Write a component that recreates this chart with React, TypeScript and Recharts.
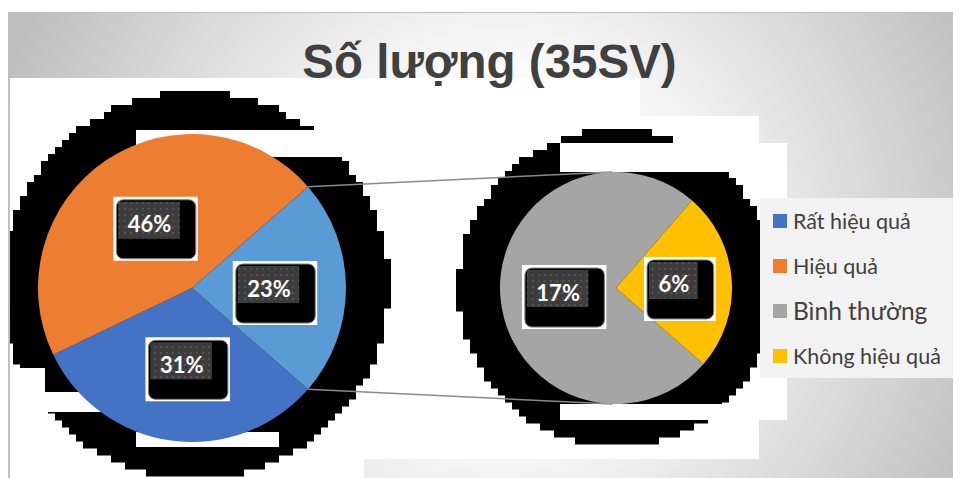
import React from 'react';
import { PieChart, Pie, Cell, Legend } from 'recharts';

// ---- data ----
const TOTAL_STUDENTS = 35;
const TITLE = 'Số lượng (35SV)';
const mainNames = ['Rất hiệu quả', 'Hiệu quả', 'Khác'];
const mainValues = [11, 16, 8];
const mainColors = ['#4472C4', '#ED7D31', '#5B9BD5'];
const subNames = ['Bình thường', 'Không hiệu quả'];
const subValues = [6, 2];
const subColors = ['#A5A5A5', '#FFC000'];
const legendNames = ['Rất hiệu quả', 'Hiệu quả', 'Bình thường', 'Không hiệu quả'];
const legendColors = ['#4472C4', '#ED7D31', '#A5A5A5', '#FFC000'];
const legendFontSizes = [21.5, 21.5, 24.5, 21.5];

// ---- layout ----
const W = 953;
const H = 470;
const MAIN = { cx: 184, cy: 280, r: 154 };
const SUB = { cx: 608, cy: 280, r: 116 };
const SUB_ROTATION = 4;
const RAD = Math.PI / 180;

const mainData = mainNames.map((name, i) => ({ name, value: mainValues[i] }));
const subData = subNames.map((name, i) => ({ name, value: subValues[i] }));
const sum = (a: number[]) => a.reduce((s, v) => s + v, 0);
const otherSweep = (360 * mainValues[mainValues.length - 1]) / sum(mainValues);
const mainStart = -otherSweep / 2;
const mainEnd = mainStart - 360;
const lastSubSweep = (360 * subValues[subValues.length - 1]) / sum(subValues);
const subStart = SUB_ROTATION + lastSubSweep / 2;
const subEnd = subStart + 360;

const renderLabel = (props: any) => {
  const { cx, cy, midAngle, outerRadius, value } = props;
  const x = cx + 0.5 * outerRadius * Math.cos(-midAngle * RAD);
  const y = cy + 0.5 * outerRadius * Math.sin(-midAngle * RAD);
  const text = Math.round((value / TOTAL_STUDENTS) * 100) + '%';
  const fs = 22;
  const tw = (text.length - 1) * 0.58 * fs + 0.86 * fs;
  const gx = x - tw / 2 - 9;
  const gy = y - 22;
  const gw = tw + 17;
  const gh = 37;
  const bx = gx - 2;
  const by = gy - 2;
  const bw = gw + 18;
  const bh = gh + 22;
  return (
    <g>
      <rect x={bx - 3} y={by - 3} width={bw + 5} height={bh + 5} fill="#ffffff" />
      <rect x={bx} y={by} width={bw} height={bh} rx={7} fill="#000000" stroke="#7f7f7f" strokeWidth={1} />
      <rect x={gx} y={gy} width={gw} height={gh} fill="url(#dotPat)" />
      <text x={x} y={y} textAnchor="middle" dominantBaseline="central" fill="#ffffff"
        fontFamily="Lato" fontWeight={700} fontSize={fs}>{text}</text>
    </g>
  );
};

const stepCircle = (cx: number, cy: number, r: number, step: number, minX: number, maxX: number, key: string) => {
  const out: React.ReactElement[] = [];
  let i = 0;
  for (let y0 = cy - r; y0 < cy + r; y0 += step) {
    const ym = y0 + step / 2;
    const dy = ym - cy;
    if (Math.abs(dy) > r) continue;
    const dx = Math.round(Math.sqrt(r * r - dy * dy) / step) * step;
    const x0 = Math.max(minX, cx - dx);
    const x1 = Math.min(maxX, cx + dx);
    if (x1 > x0) out.push(<rect key={key + i++} x={x0} y={y0} width={x1 - x0} height={step + 0.5} fill="#000" />);
  }
  return out;
};

const renderLegend = () => (
  <div style={{ width: 195, height: 180, background: '#f2f2f2', position: 'relative', fontFamily: 'Lato' }}>
    {legendNames.map((n, i) => (
      <div key={n} style={{ position: 'absolute', left: 13, top: 23 + i * 45 - 13, height: 26, display: 'flex', alignItems: 'center' }}>
        <span style={{ width: 14, height: 14, background: legendColors[i], display: 'inline-block', marginRight: 6, flexShrink: 0 }} />
        <span style={{ fontSize: legendFontSizes[i], color: '#404040', lineHeight: '26px', whiteSpace: 'nowrap' }}>{n}</span>
      </div>
    ))}
  </div>
);

export default function App() {
  const a = (otherSweep / 2) * RAD;
  const p1x = MAIN.cx + MAIN.r * Math.cos(a);
  const p1y = MAIN.cy - MAIN.r * Math.sin(a);
  const p2y = MAIN.cy + MAIN.r * Math.sin(a);
  const whites = [
    [2, 70, 354, 400],
    [356, 70, 276, 381],
    [356, 108, 395, 343],
    [751, 137, 28, 275],
  ];
  const cuts = [
    [128, 122, 209, 27],
    [2, 360, 35, 110],
    [37, 384, 91, 20],
    [128, 424, 143, 15],
    [552, 135, 227, 29],
    [552, 396, 227, 16],
    [752, 135, 27, 277],
  ];
  return (
    <div style={{ position: 'relative', width: W, height: H, fontFamily: 'Lato' }}>
      <svg width={W} height={H} style={{ position: 'absolute', left: 0, top: 0 }}>
        <defs>
          <radialGradient id="bgGrad" gradientUnits="userSpaceOnUse" cx={492} cy={242} r={520}>
            <stop offset="0" stopColor="#ffffff" />
            <stop offset="0.35" stopColor="#fafafa" />
            <stop offset="1" stopColor="#bfbfbf" />
          </radialGradient>
          <pattern id="dotPat" width="6" height="6" patternUnits="userSpaceOnUse">
            <rect width="6" height="6" fill="#3d3d3d" />
            <circle cx="3" cy="3" r="0.9" fill="#5c5c5c" />
          </pattern>
        </defs>
        <rect x={0} y={4} width={W} height={H - 4} fill="url(#bgGrad)" />
        <line x1={0.5} y1={4} x2={0.5} y2={H} stroke="#bfbfbf" />
        <line x1={0} y1={4.5} x2={W} y2={4.5} stroke="#bfbfbf" />
        {whites.map((w, i) => (<rect key={'w' + i} x={w[0]} y={w[1]} width={w[2]} height={w[3]} fill="#ffffff" />))}
        <text x={481.5} y={70} textAnchor="middle" fontFamily="Liberation Sans" fontWeight={700} fontSize={47.5} fill="#404040">{TITLE}</text>
        {stepCircle(187, 277, 194, 7, 2, 2000, 'l')}
        {stepCircle(609, 280, 159, 7, 0, 752, 'r')}
        {cuts.map((w, i) => (<rect key={'c' + i} x={w[0]} y={w[1]} width={w[2]} height={w[3]} fill="#ffffff" />))}
        <line x1={p1x} y1={p1y} x2={SUB.cx - 4} y2={SUB.cy - SUB.r} stroke="#8a8a8a" strokeWidth={1.5} />
        <line x1={p1x} y1={p2y} x2={SUB.cx - 4} y2={SUB.cy + SUB.r} stroke="#8a8a8a" strokeWidth={1.5} />
      </svg>
      <div style={{ position: 'absolute', left: 0, top: 0 }}>
        <PieChart width={W} height={H} margin={{ top: 0, right: 0, bottom: 0, left: 0 }}>
          <Pie data={mainData} dataKey="value" nameKey="name" cx={MAIN.cx} cy={MAIN.cy} outerRadius={MAIN.r}
            startAngle={mainStart} endAngle={mainEnd} stroke="none" isAnimationActive={false}
            label={renderLabel} labelLine={false}>
            {mainData.map((d, i) => (<Cell key={d.name} fill={mainColors[i]} />))}
          </Pie>
          <Pie data={subData} dataKey="value" nameKey="name" cx={SUB.cx} cy={SUB.cy} outerRadius={SUB.r}
            startAngle={subStart} endAngle={subEnd} stroke="none" isAnimationActive={false}
            label={renderLabel} labelLine={false}>
            {subData.map((d, i) => (<Cell key={d.name} fill={subColors[i]} />))}
          </Pie>
          <Legend layout="vertical" align="right" verticalAlign="middle" content={renderLegend}
            wrapperStyle={{ left: 752, top: 190, right: 'auto', bottom: 'auto', width: 195, height: 180 }} />
        </PieChart>
      </div>
    </div>
  );
}
